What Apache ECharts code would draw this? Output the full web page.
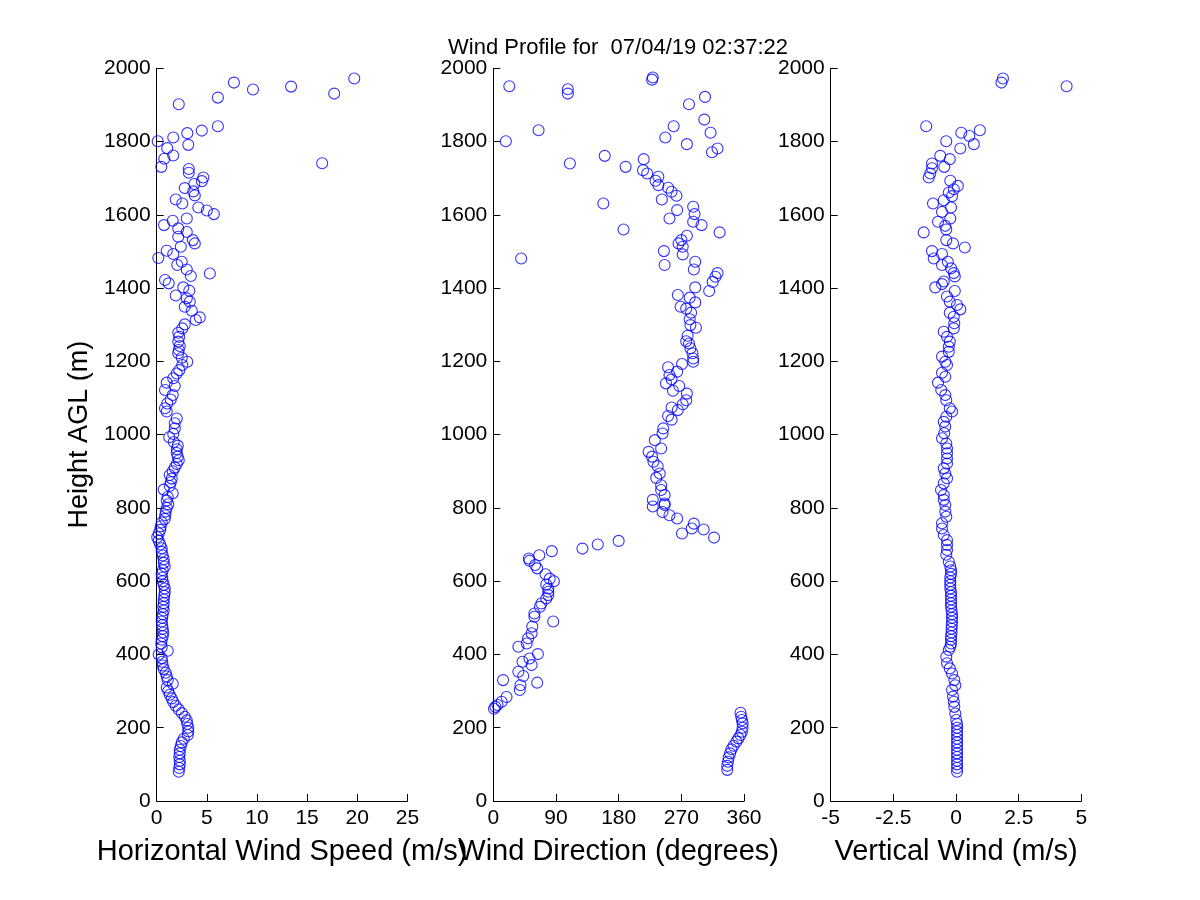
<!DOCTYPE html>
<html>
<head>
<meta charset="utf-8">
<script src="https://cdn.jsdelivr.net/npm/echarts@6/dist/echarts.min.js"></script>
<style>
html,body{margin:0;padding:0;background:#fff;}
#chart{width:1200px;height:900px;}
</style>
</head>
<body>
<div id="chart"></div>
<script>
// [height (m), horizontal wind speed (m/s)]
const speedData = [
[1972,19.7],[1961,7.7],[1950,13.4],[1942,9.6],[1931,17.7],[1920,6.1],[1902,2.2],[1842,6.1],[1830,4.5],[1823,3.05],
[1811,1.65],[1801,0.1],[1791,3.15],[1782,1.05],[1762,1.65],[1753,0.76],[1741,16.5],[1731,0.46],[1725,3.2],[1715,3.2],
[1702,4.65],[1692,4.5],[1684,3.75],[1673,2.8],[1664,3.65],[1653,3.8],[1642,1.9],[1631,2.55],[1620,4.15],[1612,5.0],
[1602,5.7],[1590,3.0],[1584,1.6],[1572,0.73],[1563,2.15],[1553,3.0],[1540,2.15],[1531,3.6],[1522,3.8],[1513,2.4],
[1502,1.0],[1493,1.65],[1482,0.16],[1472,2.5],[1463,2.05],[1451,3.0],[1440,5.3],[1433,3.4],[1422,0.83],[1413,1.2],
[1402,2.65],[1393,3.25],[1380,1.9],[1372,3.0],[1363,3.3],[1349,2.8],[1338,3.5],[1320,4.3],[1313,3.9],[1301,2.8],
[1290,2.55],[1278,2.15],[1267,2.25],[1254,2.15],[1242,2.3],[1231,2.2],[1222,2.15],[1210,2.5],[1199,3.05],[1190,2.55],
[1176,2.25],[1167,2.0],[1154,1.65],[1142,1.0],[1133,1.8],[1122,0.83],[1108,1.6],[1096,1.4],[1085,1.05],[1072,0.83],
[1063,1.0],[1044,2.0],[1031,1.8],[1017,1.8],[1002,1.65],[993,1.25],[980,1.7],[970,2.1],[960,2.0],[950,2.0],
[940,2.1],[930,2.2],[920,2.0],[910,1.8],[900,1.6],[890,1.3],[880,1.5],[870,1.4],[860,1.3],[850,0.7],
[840,1.6],[830,1.1],[820,1.0],[810,1.15],[800,1.0],[790,0.9],[780,0.85],[770,0.8],[760,0.5],[750,0.4],
[740,0.35],[730,0.2],[720,0.05],[710,0.2],[700,0.35],[690,0.5],[680,0.5],[670,0.6],[660,0.7],[650,0.7],
[640,0.8],[630,0.6],[620,0.5],[610,0.55],[600,0.6],[590,0.7],[580,0.8],[570,0.8],[560,0.75],[550,0.7],
[540,0.7],[530,0.65],[520,0.7],[510,0.6],[500,0.55],[490,0.5],[480,0.55],[470,0.6],[460,0.65],[450,0.6],
[440,0.5],[430,0.45],[420,0.5],[410,1.1],[400,0.2],[390,0.5],[380,0.55],[370,0.6],[360,0.7],[350,0.9],
[340,1.0],[330,1.1],[320,1.6],[310,1.0],[300,1.15],[290,1.3],[280,1.5],[270,1.65],[260,1.9],[250,2.2],
[240,2.5],[230,2.8],[220,3.0],[210,3.05],[200,3.15],[190,3.15],[180,3.1],[170,2.7],[160,2.5],[150,2.4],
[140,2.3],[130,2.3],[120,2.25],[110,2.3],[100,2.3],[90,2.25],[80,2.2]
];

// [height (m), wind direction (degrees)]
const directionData = [
[85,336],[96,336],[107,337],[119,338],[130,340],[141,342],[151,345],[162,349],[171,352],[180,355],
[189,357],[200,358],[212,358],[221,357],[230,356],[241,355],[252,1],[257,3],[262,6],[271,12],
[284,19],[303,38],[316,39],[323,63],[330,14],[341,43],[353,36],[371,55],[380,42],[389,52],
[401,64],[421,36],[430,48],[444,50],[458,55],[476,56],[490,86],[503,59],[512,59],[530,67],
[539,69],[553,76],[562,79],[571,79],[580,79],[591,76],[600,87],[607,81],[619,75],[635,63],
[644,60],[656,52],[662,51],[671,66],[682,84],[689,128],[700,150],[710,180],[719,317],[730,271],
[741,302],[744,285],[757,288],[771,264],[780,253],[789,243],[804,229],[808,246],[812,246],[822,229],
[835,246],[849,241],[862,241],[882,234],[894,239],[914,236],[926,230],[940,228],[953,223],[962,241],
[985,232],[1003,243],[1017,244],[1041,256],[1051,251],[1067,265],[1074,256],[1083,272],[1094,277],[1112,278],
[1120,258],[1133,267],[1140,248],[1151,256],[1163,253],[1172,264],[1184,251],[1193,271],[1199,287],[1208,287],
[1222,286],[1236,283],[1249,281],[1255,277],[1270,279],[1292,291],[1299,283],[1315,282],[1333,284],[1344,277],
[1349,269],[1361,290],[1374,282],[1381,265],[1392,310],[1402,290],[1417,315],[1431,319],[1441,322],[1451,288],
[1463,246],[1472,290],[1481,40],[1492,272],[1501,245],[1513,272],[1522,266],[1531,270],[1543,278],[1552,325],
[1560,187],[1572,299],[1581,287],[1590,253],[1602,289],[1613,264],[1622,287],[1631,158],[1642,242],[1652,263],
[1663,256],[1674,251],[1681,237],[1693,233],[1704,237],[1713,221],[1722,215],[1731,190],[1740,110],[1752,216],
[1761,160],[1771,314],[1781,322],[1793,278],[1801,18],[1811,247],[1824,312],[1831,65],[1842,259],[1860,303],
[1902,281],[1922,304],[1931,107],[1943,107],[1951,23],[1969,228],[1975,229]
];

// [height (m), vertical wind (m/s)]
const verticalData = [
[80,0.04],[90,0.04],[100,0.04],[110,0.04],[120,0.04],[130,0.04],[140,0.04],[150,0.04],[160,0.04],[170,0.04],
[180,0.04],[190,0.04],[200,0.04],[210,0.04],[221,0.01],[239,-0.03],[257,-0.07],[271,-0.09],[285,-0.12],[303,-0.16],
[316,-0.03],[330,-0.07],[348,-0.16],[362,-0.25],[376,-0.36],[394,-0.39],[412,-0.29],[421,-0.23],[430,-0.2],[440,-0.2],
[450,-0.2],[460,-0.18],[470,-0.18],[480,-0.17],[490,-0.16],[500,-0.16],[510,-0.16],[520,-0.18],[530,-0.2],[540,-0.2],
[550,-0.2],[560,-0.2],[570,-0.2],[580,-0.23],[590,-0.23],[600,-0.23],[610,-0.23],[620,-0.2],[630,-0.2],[640,-0.23],
[653,-0.29],[672,-0.39],[685,-0.36],[699,-0.36],[712,-0.36],[726,-0.49],[744,-0.56],[758,-0.56],[776,-0.39],[790,-0.43],
[808,-0.43],[822,-0.49],[835,-0.49],[849,-0.6],[867,-0.49],[881,-0.36],[894,-0.43],[908,-0.49],[921,-0.36],[935,-0.36],
[949,-0.36],[962,-0.36],[976,-0.39],[990,-0.56],[1004,-0.47],[1022,-0.43],[1035,-0.49],[1049,-0.39],[1063,-0.16],[1072,-0.25],
[1094,-0.39],[1108,-0.43],[1122,-0.59],[1142,-0.72],[1158,-0.43],[1169,-0.56],[1190,-0.36],[1199,-0.43],[1213,-0.56],[1226,-0.29],
[1240,-0.29],[1254,-0.25],[1267,-0.36],[1281,-0.49],[1290,-0.09],[1304,-0.07],[1322,-0.09],[1333,-0.25],[1342,0.17],[1354,0.04],
[1363,-0.25],[1377,-0.36],[1392,-0.05],[1402,-0.83],[1411,-0.56],[1418,-0.49],[1432,-0.05],[1441,-0.09],[1454,-0.2],[1463,-0.56],
[1472,-0.33],[1481,-0.89],[1493,-0.56],[1501,-0.96],[1511,0.35],[1522,-0.12],[1531,-0.39],[1552,-1.29],[1560,-0.39],[1570,-0.43],
[1581,-0.72],[1590,-0.23],[1608,-0.56],[1620,-0.2],[1631,-0.92],[1640,-0.49],[1651,-0.16],[1661,-0.29],[1670,-0.09],[1679,0.07],
[1693,-0.23],[1702,-1.09],[1713,-1.03],[1727,-0.96],[1731,-0.47],[1740,-0.96],[1752,-0.25],[1761,-0.63],[1781,0.17],[1793,0.71],
[1801,-0.39],[1815,0.53],[1824,0.21],[1831,0.95],[1842,-1.19],[1951,4.41],[1961,1.81],[1972,1.87]
];

const heightTicks = {min: 0, max: 2000, interval: 200};
const speedAxis = {min: 0, max: 25, interval: 5};
const directionAxis = {min: 0, max: 360, interval: 90};
const verticalAxis = {min: -5, max: 5, interval: 2.5};

const FONT = 'Liberation Sans, Arial, Helvetica, sans-serif';
const BLUE = '#0000ff';

const chart = echarts.init(document.getElementById('chart'), null, {renderer: 'canvas'});

const gridTop = 68.3, gridBottom = 99, gridW = 250.7;
const lefts = [156.7, 493.3, 830.7];
const plain = v => String(v);

function xAx(i, rng, name) {
  return {
    type: 'value', gridIndex: i, min: rng.min, max: rng.max, interval: rng.interval,
    name: name, nameLocation: 'middle', nameGap: 36,
    nameTextStyle: {fontSize: 29, color: '#000', fontFamily: FONT},
    axisLine: {show: true, onZero: false, lineStyle: {color: '#000', width: 1}},
    axisTick: {show: true, inside: true, length: 7, lineStyle: {color: '#000'}},
    axisLabel: {show: true, color: '#000', fontSize: 21, fontFamily: FONT, margin: 7, formatter: plain},
    splitLine: {show: false}
  };
}
function yAx(i, name) {
  const a = {
    type: 'value', gridIndex: i, min: heightTicks.min, max: heightTicks.max, interval: heightTicks.interval,
    axisLine: {show: true, onZero: false, lineStyle: {color: '#000', width: 1}},
    axisTick: {show: true, inside: true, length: 7, lineStyle: {color: '#000'}},
    axisLabel: {show: true, color: '#000', fontSize: 21, fontFamily: FONT, margin: 6, formatter: plain},
    splitLine: {show: false}
  };
  if (name) {
    a.name = name; a.nameLocation = 'middle'; a.nameGap = 64; a.nameRotate = 90;
    a.nameTextStyle = {fontSize: 27, color: '#000', fontFamily: FONT};
  }
  return a;
}
function ser(i, data) {
  return {
    type: 'scatter', xAxisIndex: i, yAxisIndex: i,
    data: data.map(p => [p[1], p[0]]),
    symbol: 'circle', symbolSize: 11,
    itemStyle: {color: 'rgba(0,0,0,0)', borderColor: BLUE, borderWidth: 1.1},
    clip: false, silent: true, animation: false
  };
}

chart.setOption({
  backgroundColor: '#ffffff',
  animation: false,
  title: {
    text: 'Wind Profile for  07/04/19 02:37:22',
    left: 613, top: 32, textAlign: 'center',
    textStyle: {fontSize: 22, fontWeight: 'normal', color: '#000', fontFamily: FONT}
  },
  grid: lefts.map(l => ({left: l, top: gridTop, width: gridW, bottom: gridBottom, containLabel: false})),
  xAxis: [
    xAx(0, speedAxis, 'Horizontal Wind Speed (m/s)'),
    xAx(1, directionAxis, 'Wind Direction (degrees)'),
    xAx(2, verticalAxis, 'Vertical Wind (m/s)')
  ],
  yAxis: [yAx(0, 'Height AGL (m)'), yAx(1), yAx(2)],
  series: [ser(0, speedData), ser(1, directionData), ser(2, verticalData)]
});
</script>
</body>
</html>
